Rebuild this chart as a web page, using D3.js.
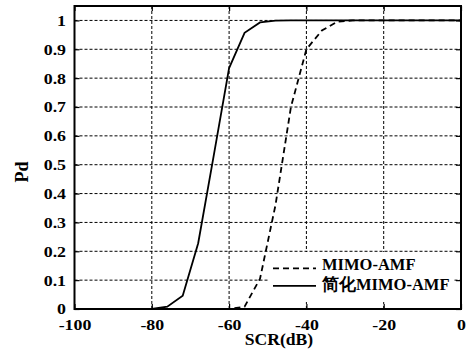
<!DOCTYPE html>
<html>
<head>
<meta charset="utf-8">
<script src="https://cdn.jsdelivr.net/npm/d3@7"></script>
<style>
  body { margin: 0; background: #fff; }
  svg { display: block; }
  svg text { font-family: "Liberation Serif", "Times New Roman", serif; fill: #000; }
</style>
</head>
<body>
<svg id="chart"></svg>
<script>
// SCR in dB, 4 dB steps
const scr = d3.range(-100, 1, 4);
// MIMO-AMF (dashed)
const pdAmf = [0, 0, 0, 0, 0, 0, 0, 0, 0, 0, 0, 0.008, 0.105, 0.36, 0.70, 0.90, 0.965, 0.996, 1, 1, 1, 1, 1, 1, 1, 1];
// 简化MIMO-AMF (solid)
const pdSimple = [0, 0, 0, 0, 0, 0, 0.008, 0.046, 0.228, 0.53, 0.835, 0.957, 0.993, 0.999, 1, 1, 1, 1, 1, 1, 1, 1, 1, 1, 1, 1];
const xTicks = [-100, -80, -60, -40, -20, 0];
const yTicks = [0, 0.1, 0.2, 0.3, 0.4, 0.5, 0.6, 0.7, 0.8, 0.9, 1];
const seriesNames = ['MIMO-AMF', '简化MIMO-AMF'];

const svgWidth = 467;
const svgHeight = 356;
const margin = {top: 6, right: 6, bottom: 47, left: 74.5};
const width = svgWidth - margin.left - margin.right;
const height = svgHeight - margin.top - margin.bottom;

const svg = d3.select('#chart')
    .attr('width', svgWidth)
    .attr('height', svgHeight);
const g = svg.append('g')
    .attr('transform', `translate(${margin.left}, ${margin.top})`);

const x = d3.scaleLinear().domain([-100, 0]).range([0, width]);
const y = d3.scaleLinear().domain([0, 1.05]).range([height, 0]);

// grid
const grid = g.append('g')
    .attr('stroke', '#000')
    .attr('stroke-width', 1)
    .attr('stroke-dasharray', '3,2');
grid.selectAll('.vg')
    .data(xTicks.slice(1, -1))
    .join('line')
    .attr('x1', d => x(d)).attr('x2', d => x(d))
    .attr('y1', 0).attr('y2', height);
grid.selectAll('.hg')
    .data(yTicks.slice(1))
    .join('line')
    .attr('x1', 0).attr('x2', width)
    .attr('y1', d => y(d)).attr('y2', d => y(d));

// curves
const line = d3.line()
    .x((d, i) => x(scr[i]))
    .y(d => y(d));
g.append('path')
    .datum(pdAmf)
    .attr('fill', 'none')
    .attr('stroke', '#000')
    .attr('stroke-width', 1.8)
    .attr('stroke-dasharray', '6,4')
    .attr('d', line);
g.append('path')
    .datum(pdSimple)
    .attr('fill', 'none')
    .attr('stroke', '#000')
    .attr('stroke-width', 1.8)
    .attr('d', line);

// legend
const leg = g.append('g');
leg.append('rect')
    .attr('x', 268 - margin.left)
    .attr('y', 252 - margin.top)
    .attr('width', 186)
    .attr('height', 50)
    .attr('fill', '#fff');
seriesNames.forEach((name, i) => {
    const ly = 268.3 - margin.top + i * 17.5;
    leg.append('line')
        .attr('x1', 273 - margin.left).attr('x2', 316 - margin.left)
        .attr('y1', ly).attr('y2', ly)
        .attr('stroke', '#000')
        .attr('stroke-width', 1.8)
        .attr('stroke-dasharray', i === 0 ? '6,4' : null);
    leg.append('text')
        .attr('x', 322 - margin.left)
        .attr('y', ly + 2 + (i === 0 ? 0 : 2))
        .attr('font-size', 16.5)
        .attr('font-weight', 'bold')
        .text(name);
});

// axes (ticks point inward)
const fmt = d => String(d);
g.append('g')
    .attr('transform', `translate(0, ${height})`)
    .call(d3.axisBottom(x).tickValues(xTicks).tickSize(-5).tickPadding(10).tickFormat(fmt));
g.append('g')
    .call(d3.axisTop(x).tickValues(xTicks).tickSize(-5).tickFormat(''));
g.append('g')
    .call(d3.axisLeft(y).tickValues(yTicks).tickSize(-5).tickPadding(8.5).tickFormat(fmt));
g.append('g')
    .attr('transform', `translate(${width}, 0)`)
    .call(d3.axisRight(y).tickValues(yTicks).tickSize(-5).tickFormat(''));

g.selectAll('.domain').remove();
g.selectAll('g').attr('font-family', null);
g.selectAll('.tick line').attr('stroke', '#000').attr('stroke-width', 1.2);
g.selectAll('.tick text')
    .attr('font-size', 15.5)
    .attr('font-weight', 'bold')
    .attr('fill', '#000');

g.append('rect')
    .attr('width', width)
    .attr('height', height)
    .attr('fill', 'none')
    .attr('stroke', '#000')
    .attr('stroke-width', 2);

// axis labels
svg.append('text')
    .attr('class', 'stretch')
    .attr('x', 279)
    .attr('y', 344.5)
    .attr('text-anchor', 'middle')
    .attr('font-size', 16)
    .attr('font-weight', 'bold')
    .text('SCR(dB)');
svg.append('text')
    .attr('transform', 'translate(28, 172) rotate(-90)')
    .attr('text-anchor', 'middle')
    .attr('font-size', 18)
    .attr('font-weight', 'bold')
    .text('Pd');

// labels in the source look a bit wider than the font
g.selectAll('.tick text').each(function () {
    const w = this.getComputedTextLength();
    d3.select(this).attr('textLength', w * 1.15).attr('lengthAdjust', 'spacingAndGlyphs');
});
svg.selectAll('.stretch').each(function () {
    const w = this.getComputedTextLength();
    d3.select(this).attr('textLength', w * 1.1).attr('lengthAdjust', 'spacingAndGlyphs');
});
</script>
</body>
</html>
